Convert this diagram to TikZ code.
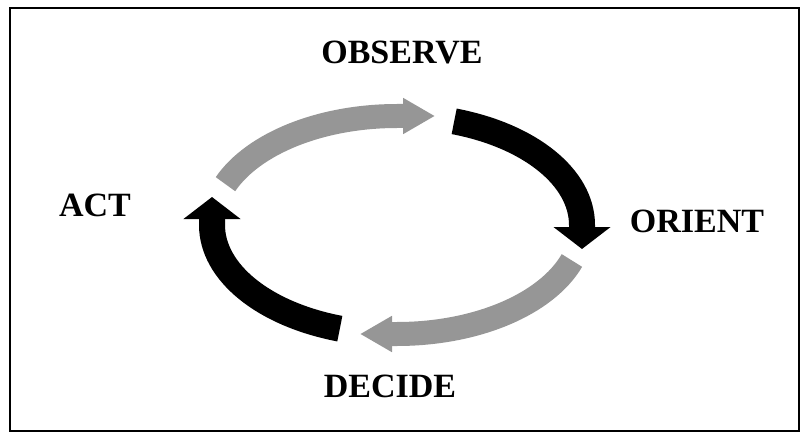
\documentclass[tikz,border=0pt]{standalone}
\usepackage{fontspec}
\setmainfont{Liberation Serif}
\usetikzlibrary{arrows.meta}
\definecolor{loopgray}{RGB}{150,150,150}
\begin{document}
\begin{tikzpicture}[x=1pt,y=1pt]
		\useasboundingbox (0,0) rectangle (801,432);
		\draw[line width=2pt] (10,1) rectangle (799,424);
		\coordinate (C) at (397,207);
		\begin{scope}[every node/.style={font=\bfseries\fontsize{34}{40}\selectfont, inner sep=0pt}]
			\node (O) at (402,379) {OBSERVE};
			\node (R) at (697,211) {ORIENT};
			\node (D) at (390,46) {DECIDE};
			\node (A) at (95,227) {ACT};
		\end{scope}
		\path (C) ++(158:185 and 109) coordinate (A1);
		\path (C) ++(72:185 and 109) coordinate (O1);
		\path (C) ++(-19:185 and 109) coordinate (R1);
		\path (C) ++(-108:185 and 109) coordinate (D1);
		\begin{scope}[loopgray, line width=24pt, -{Triangle[width=34pt,length=32pt]}]
			\draw (A1) arc[start angle=158, end angle=90, x radius=185, y radius=109] -- ++(38,0);
			\draw (R1) arc[start angle=-19, end angle=-90, x radius=185, y radius=109] -- ++(-37,0);
		\end{scope}
		\begin{scope}[black, line width=26pt, -{Triangle[width=56pt,length=22pt]}]
			\draw (O1) arc[start angle=72, end angle=0, x radius=185, y radius=109] -- ++(0,-24);
			\draw (D1) arc[start angle=-108, end angle=-180, x radius=185, y radius=109] -- ++(0,28);
		\end{scope}
	\end{tikzpicture}
\end{document}
